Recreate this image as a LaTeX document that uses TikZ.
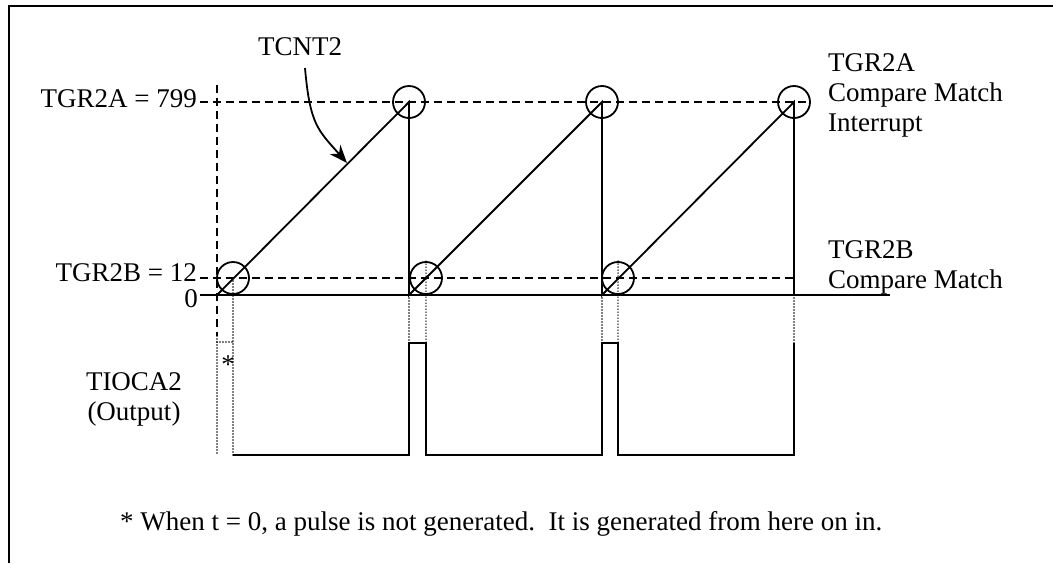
\documentclass[tikz,border=0pt]{standalone}
\usepackage{fontspec}
\setmainfont{Liberation Serif}
\usetikzlibrary{arrows.meta}
\begin{document}
\begin{tikzpicture}[x=1pt,y=-1pt,
  solidln/.style={line width=1.8pt},
  dashln/.style={line width=1.8pt, dash pattern=on 8pt off 5pt},
  dotln/.style={line width=1.7pt, line cap=round, dash pattern=on 0pt off 3pt},
  ring/.style={circle, draw, line width=1.8pt, minimum size=32pt, inner sep=0pt},
  lbl/.style={font=\fontsize{27}{31}\selectfont, inner sep=0pt}]
\useasboundingbox (0,0) rectangle (1053,563);
% frame
\draw[line width=2.2pt] (9,563) -- (9,6) -- (1053,6);
% key coordinates
\coordinate (o0) at (217,295);
\coordinate (o1) at (409,295);
\coordinate (o2) at (602,295);
\coordinate (o3) at (794,295);
\coordinate (a1) at (409,102);
\coordinate (a2) at (602,102);
\coordinate (a3) at (794,102);
% level lines
\coordinate (zl) at (200,295); \coordinate (zr) at (890,295);
\draw[solidln] (zl) -- (zr);
\coordinate (al) at (200,102); \coordinate (ar) at (810,102);
\draw[dashln] (al) -- (ar);
\coordinate (bl) at (200,278); \coordinate (br) at (794,278);
\draw[dashln] (bl) -- (br);
% time-zero axis
\coordinate (vt) at (217,85); \coordinate (vm) at (217,336); \coordinate (vb) at (217,455);
\draw[dashln] (vt) -- (vm);
\draw[dotln] (vm) -- (vb);
% sawtooth
\draw[solidln] (o0) -- (a1) -- (o1) -- (a2) -- (o2) -- (a3) -- (o3);
% compare-match rings
\node[ring] (ca1) at (a1) {};
\node[ring] (ca2) at (a2) {};
\node[ring] (ca3) at (a3) {};
\node[ring] (cb1) at (233,278) {};
\node[ring] (cb2) at (426,278) {};
\node[ring] (cb3) at (618,278) {};
% output waveform
\coordinate (w0) at (233,455);
\draw[solidln] (w0) -- (409,455) -- (409,343) -- (426,343) -- (426,455)
  -- (602,455) -- (602,343) -- (618,343) -- (618,455) -- (794,455) -- (794,343);
% dotted guides
\draw[dotln] (cb1.center) -- (w0);
\draw[dotln] (217,342) -- (233,342);
\draw[dotln] (o1) -- (409,343);
\draw[dotln] (cb2.north) -- (426,343);
\draw[dotln] (o2) -- (602,343);
\draw[dotln] (cb3.north) -- (618,343);
\draw[dotln] (o3) -- (794,343);
\node[lbl] (ast) at (228,365) {*};
% labels
\node[lbl, anchor=base east] (la) at (197,107) {TGR2A = 799};
\node[lbl, anchor=base east] (lb) at (197,281) {TGR2B = 12};
\node[lbl, anchor=base east] (lz) at (198,307) {0};
\node[lbl, anchor=base] (tc) at (300,55) {TCNT2};
\coordinate (tcs) at (305,68);
\coordinate (tce) at (347,163);
\draw[line width=1.8pt, -{Stealth[length=18pt,width=14pt]}] (tcs) .. controls (310,125) and (318,130) .. (tce);
\node[lbl, anchor=base west] (ra1) at (828,71) {TGR2A};
\node[lbl, anchor=base west] (ra2) at (828,101) {Compare Match};
\node[lbl, anchor=base west] (ra3) at (828,131) {Interrupt};
\node[lbl, anchor=base west] (rb1) at (828,258) {TGR2B};
\node[lbl, anchor=base west] (rb2) at (828,288) {Compare Match};
\node[lbl, anchor=base] (out1) at (134,390) {TIOCA2};
\node[lbl, anchor=base] (out2) at (134,420) {(Output)};
\node[lbl, anchor=base west] (note) at (120,530) {* When t = 0, a pulse is not generated.\ \ It is generated from here on in.};
\end{tikzpicture}
\end{document}
